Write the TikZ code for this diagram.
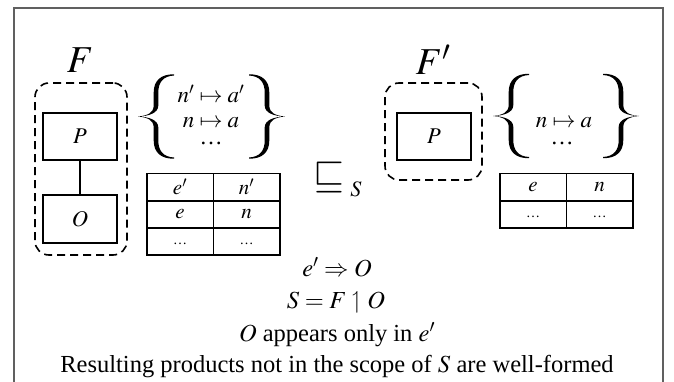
\documentclass[tikz,border=0pt]{standalone}
\usepackage{mathptmx}
\usepackage{amssymb}
\usepackage{fontspec}
\setmainfont{Liberation Serif}
\tikzset{
  dbox/.style={draw, line width=1.6pt, dash pattern=on 8pt off 5pt, rounded corners=14pt, inner sep=0pt},
  pbox/.style={draw, line width=1.5pt, minimum width=74pt, minimum height=47pt, inner sep=0pt, font=\fontsize{22.5}{24}\selectfont},
  cell/.style={draw, line width=1.5pt, minimum width=66.5pt, minimum height=27.3pt, inner sep=0pt, font=\fontsize{21}{22}\selectfont},
  lbl/.style={inner sep=0pt, font=\fontsize{38}{42}\selectfont},
  setitem/.style={inner sep=0pt, anchor=base, text height=10pt, text depth=0pt, font=\fontsize{23}{23}\selectfont},
  txt/.style={inner sep=0pt, font=\fontsize{24.5}{28}\selectfont},
  bracepic/.pic={
    \fill (18,-42.2)
      .. controls (5,-42.4) and (-2.3,-36) .. (-2.3,-24)
      -- (-2.3,-11)
      .. controls (-2.3,-3.5) and (-9,-0.7) .. (-18,0)
      .. controls (-9,0.7) and (-2.3,3.5) .. (-2.3,11)
      -- (-2.3,24)
      .. controls (-2.3,36) and (5,42.4) .. (18,42.2)
      -- (18,41.0)
      .. controls (7,40.4) and (2.3,34) .. (2.3,24)
      -- (2.3,11)
      .. controls (2.3,3.5) and (-7,0.3) .. (-18,0)
      .. controls (-7,-0.3) and (2.3,-3.5) .. (2.3,-11)
      -- (2.3,-24)
      .. controls (2.3,-34) and (7,-40.4) .. (18,-41.0)
      -- cycle;
  }
}
\newcommand{\celldots}{\raisebox{-6pt}{\fontsize{14}{16}\selectfont\dots}}
\begin{document}
\begin{tikzpicture}[x=1pt,y=-1pt]
\useasboundingbox (0,0) rectangle (674,382);
\fill[white] (0,0) rectangle (674,382);
% frame
\draw[line width=2pt, gray!75!black] (14,383) -- (14,8) -- (663,8) -- (663,383);

% ---- F ----
\node[lbl] (F) at (80,60) {$F$};
\node[dbox, minimum width=92pt, minimum height=172pt] (Fbox) at (81,169) {};
\node[pbox] (P) at (80,136.5) {$P$};
\node[pbox, minimum height=48pt] (O) at (80,219) {$O$};
\draw[line width=1.5pt] (P) -- (O);

\pic at (156,116.5) {bracepic};
\pic[xscale=-1] at (267,116.5) {bracepic};
\node[setitem] (s11) at (211,103) {$n'\mapsto a'$};
\node[setitem] (s12) at (211,128) {$n\mapsto a$};
\node[setitem] (s13) at (211,145) {\dots};

\node[cell] (t11) at (180,187) {$e'$};
\node[cell] (t12) at (246.5,187) {$n'$};
\node[cell] (t21) at (180,214.5) {$e$};
\node[cell] (t22) at (246.5,214.5) {$n$};
\node[cell] (t31) at (180,241.5) {\celldots};
\node[cell] (t32) at (246.5,241.5) {\celldots};

% ---- sqsubseteq ----
\node[inner sep=0pt, font=\fontsize{40}{42}\selectfont] (sq) at (329,177) {$\sqsubseteq$};
\node[inner sep=0pt, font=\fontsize{22}{24}\selectfont] (sqS) at (356,189) {$S$};

% ---- F' ----
\node[lbl] (Fp) at (433,60) {$F'$};
\node[dbox, minimum width=97pt, minimum height=97pt] (Fpbox) at (433.5,131.5) {};
\node[pbox] (Pp) at (434,136.5) {$P$};

\pic at (511,116) {bracepic};
\pic[xscale=-1] at (621,116) {bracepic};
\node[setitem] (s21) at (564,128) {$n\mapsto a$};
\node[setitem] (s22) at (562,145) {\dots};

\node[cell] (u11) at (533,187) {$e$};
\node[cell] (u12) at (599.5,187) {$n$};
\node[cell] (u21) at (533,214.5) {\celldots};
\node[cell] (u22) at (599.5,214.5) {\celldots};

% ---- bottom text ----
\node[txt] (l1) at (337,267) {$e'\Rightarrow O$};
\node[txt] (l2) at (336,302) {$S=F\upharpoonleft O$};
\node[txt] (l3) at (337,335) {$O$ appears only in $e'$};
\node[txt] (l4) at (337,367) {Resulting products not in the scope of $S$ are well-formed};
\end{tikzpicture}
\end{document}
